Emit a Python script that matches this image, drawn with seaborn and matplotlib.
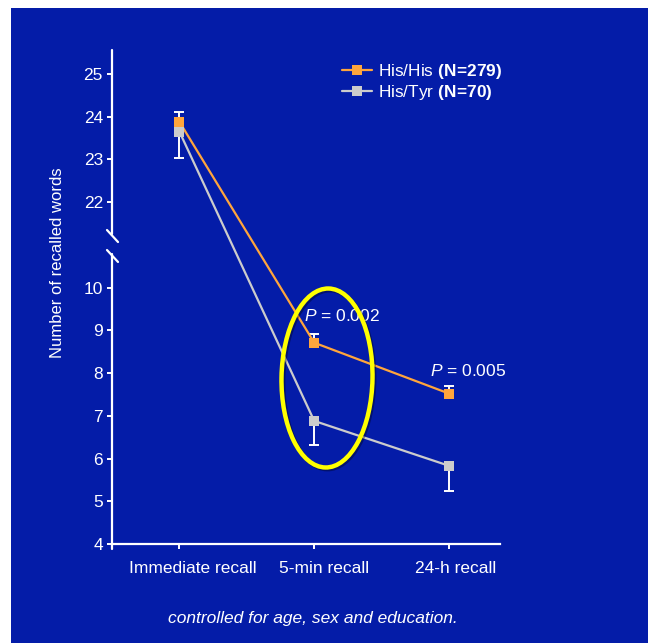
import numpy as np
import pandas as pd
import seaborn as sns
import matplotlib.pyplot as plt
from matplotlib.lines import Line2D
from matplotlib.patches import Ellipse, Rectangle
from matplotlib.transforms import ScaledTranslation
import matplotlib.patheffects as pe

# data
times = ["Immediate recall", "5-min recall", "24-h recall"]
hishis_mean = [23.88, 8.71, 7.52]
hishis_err_up = [0.24, 0.21, 0.18]
histyr_mean = [23.65, 6.88, 5.83]
histyr_err_down = [0.61, 0.56, 0.59]
groups = ["His/His", "His/Tyr"]
group_labels = ["His/His $\\mathbf{(N\\!=\\!279)}$", "His/Tyr $\\mathbf{(N\\!=\\!70)}$"]
yticks = [4, 5, 6, 7, 8, 9, 10, 22, 23, 24, 25]
p_texts = ["$P$ = 0.002", "$P$ = 0.005"]

blue = "#041ca8"
orange = "#ffa53c"
grey = "#cccccc"

sns.set_style("ticks")
plt.rcParams["font.family"] = ["Liberation Sans", "DejaVu Sans"]
plt.rcParams["mathtext.fontset"] = "custom"
plt.rcParams["mathtext.rm"] = "Liberation Sans"
plt.rcParams["mathtext.it"] = "Liberation Sans:italic"
plt.rcParams["mathtext.bf"] = "Liberation Sans:bold"

df = pd.DataFrame({
    "time": times * 2,
    "recalled": hishis_mean + histyr_mean,
    "genotype": [groups[0]] * 3 + [groups[1]] * 3,
})

# broken y axis: squeeze 10.8..21.2 into a small gap
lo, hi, gapw = 10.8, 21.2, 0.4


def fwd(y):
    y = np.asarray(y, dtype=float)
    return np.where(y <= lo, y, np.where(y >= hi, y - (hi - lo) + gapw,
                                         lo + (y - lo) * gapw / (hi - lo)))


def inv(f):
    f = np.asarray(f, dtype=float)
    return np.where(f <= lo, f, np.where(f >= lo + gapw, f + (hi - lo) - gapw,
                                         lo + (f - lo) * (hi - lo) / gapw))


fig = plt.figure(figsize=(6.48, 6.43), dpi=100, facecolor="white")
fig.patches.append(Rectangle((11 / 648, 0), 637 / 648, 635 / 643,
                             transform=fig.transFigure, facecolor=blue,
                             edgecolor="none", zorder=-5))

ax = fig.add_axes([112 / 648, 1 - 544 / 643, 388 / 648, 494 / 643])
ax.set_facecolor("none")
ax.set_yscale("function", functions=(fwd, inv))

sns.lineplot(data=df, x="time", y="recalled", hue="genotype",
             palette={groups[0]: orange, groups[1]: grey},
             marker="s", markersize=7.5, markeredgewidth=0, linewidth=1.6,
             legend=False, ax=ax, zorder=3)

ax.errorbar(times, hishis_mean, yerr=[np.zeros(3), hishis_err_up], fmt="none",
            ecolor="white", elinewidth=1.4, capsize=3.6, capthick=1.4, zorder=2)
ax.errorbar(times, histyr_mean, yerr=[histyr_err_down, np.zeros(3)], fmt="none",
            ecolor="white", elinewidth=1.4, capsize=3.6, capthick=1.4, zorder=2)

ax.set_xlim(-0.5, 2.378)
ax.set_ylim(4, 25.56)
ax.set_yticks(yticks)
ax.set_yticklabels([str(t) for t in yticks])
ax.minorticks_off()
ax.set_xlabel("")
ax.set_ylabel("")

for s in ["top", "right", "left"]:
    ax.spines[s].set_visible(False)
ax.spines["bottom"].set_color("white")
ax.spines["bottom"].set_linewidth(1.6)
ax.tick_params(colors="white", labelsize=12.5, length=3.5, width=1.4, direction="out")
ax.tick_params(axis="x", pad=9)
ax.tick_params(axis="y", pad=3)

# left spine in two pieces with break marks
seg = dict(color="white", lw=1.6, transform=ax.transAxes, clip_on=False, zorder=4)
ax.plot([0, 0], [-0.01, 0.587], **seg)
ax.plot([0, 0], [0.627, 1.0], **seg)
ax.plot([-0.0129, 0.0155], [0.6356, 0.6113], **seg)
ax.plot([-0.0129, 0.0155], [0.5951, 0.5709], **seg)

# x tick labels sit a bit right of their ticks on the slide
for lab, dx in zip(ax.get_xticklabels(), [13, 10, 7]):
    lab.set_transform(lab.get_transform() + ScaledTranslation(dx / 100, 0, fig.dpi_scale_trans))

ax.text(1.207, 9.34, p_texts[0], color="white", fontsize=12.5, ha="center", va="center", zorder=5)
ax.text(2.14, 8.05, p_texts[1], color="white", fontsize=12.5, ha="center", va="center", zorder=5)

handles = [Line2D([], [], color=c, lw=1.6, marker="s", markersize=6.5, markeredgewidth=0)
           for c in [orange, grey]]
leg = fig.legend(handles, group_labels, loc="upper left",
                 bbox_to_anchor=(342 / 648, 1 - 62 / 643), frameon=False,
                 fontsize=12.4, handlelength=1.75, handletextpad=0.35,
                 labelspacing=0.12, borderpad=0, borderaxespad=0)
for t in leg.get_texts():
    t.set_color("white")

ell = Ellipse((327 / 648, 1 - 378 / 643), 91 / 648, 179 / 643, angle=-1,
              transform=fig.transFigure, facecolor="none", edgecolor="#ffff00",
              lw=3.2, zorder=6,
              path_effects=[pe.SimpleLineShadow(offset=(1.2, -1.2), shadow_color="black", alpha=0.35),
                            pe.Normal()])
fig.add_artist(ell)

fig.text(58 / 648, 1 - 263 / 643, "Number of recalled words", rotation=90,
         color="white", fontsize=12, ha="center", va="center")
fig.text(313 / 648, 1 - 619 / 643, "controlled for age, sex and education.",
         color="white", fontsize=12.5, style="italic", ha="center", va="center")

fig.savefig("out.png", dpi=100, facecolor="white")
